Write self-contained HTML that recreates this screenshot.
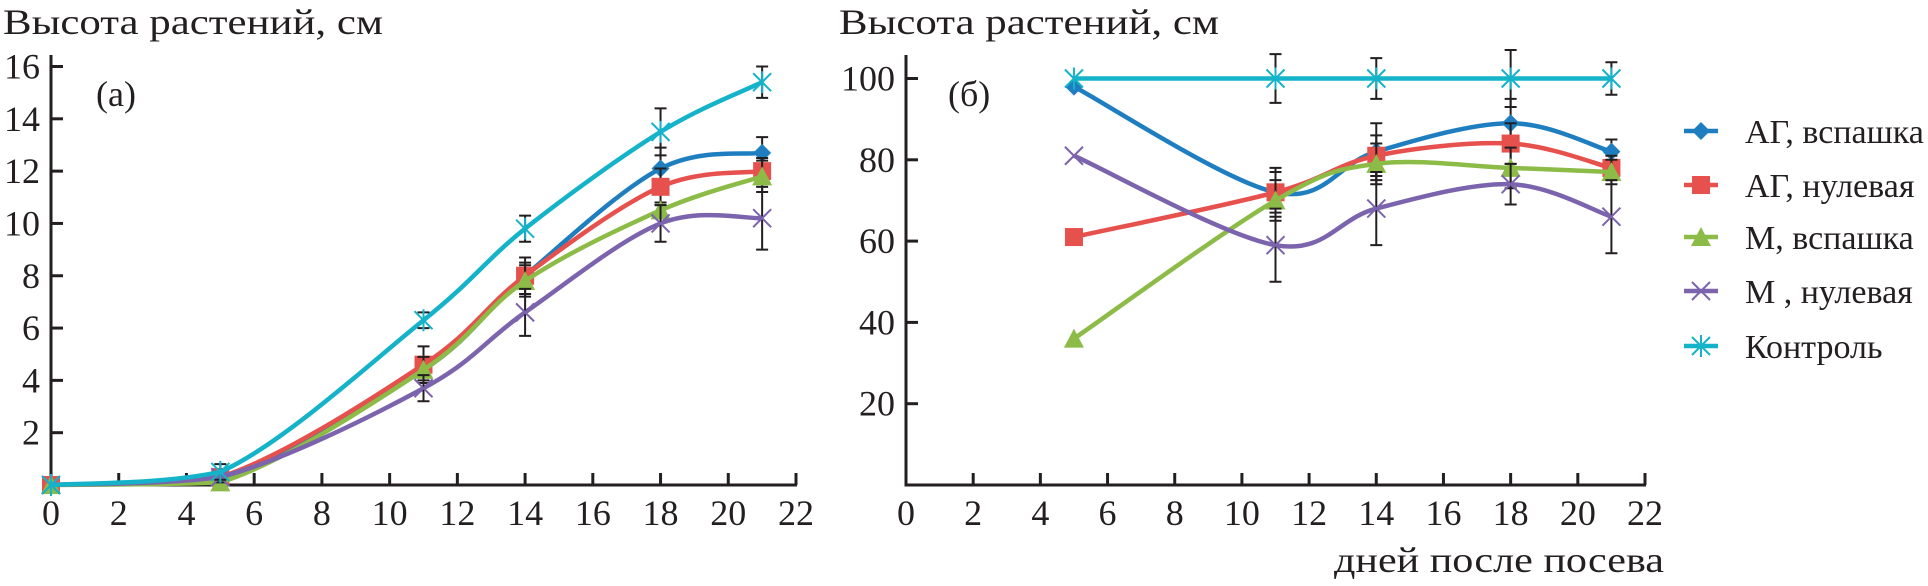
<!DOCTYPE html>
<html><head><meta charset="utf-8">
<style>
html,body{margin:0;padding:0;background:#fff;}
svg{display:block;font-family:"Liberation Serif",serif;}
</style></head>
<body>
<svg id="chart" width="1928" height="586" viewBox="0 0 1928 586"></svg>
<script>
const seriesNames = ["АГ, вспашка","АГ, нулевая","М, вспашка","М , нулевая","Контроль"];
const seriesColors = ["#1f7ec0","#e6504d","#8cbb48","#7b64ad","#14b3c9"];
const seriesMarkers = ["diamond","square","triangle","x","star"];
const daysA = [0,5,11,14,18,21];
const agVspA = [0,0.3,4.4,8.0,12.1,12.7];
const agNulA = [0,0.3,4.6,8.0,11.4,12.0];
const mVspA = [0,0.1,4.4,7.8,10.5,11.8];
const mNulA = [0,0.3,3.7,6.6,10.0,10.2];
const ctrlA = [0,0.5,6.3,9.8,13.5,15.4];
const errA = [[0,0.3,0.4,0.5,0.8,0.6],[0,0.3,0.7,0.7,0.7,0.5],[0,0.2,0.5,0.6,0.3,0.6],[0,0.2,0.5,0.9,0.7,1.2],[0,0.3,0.3,0.5,0.9,0.6]];
const daysB = [5,11,14,18,21];
const agVspB = [98,72,82,89,82];
const agNulB = [61,72,81,84,78];
const mVspB = [36,70,79,78,77];
const mNulB = [81,59,68,74,66];
const ctrlB = [100,100,100,100,100];
const errB = [[0,6,7,6,3],[0,5,5,5,3],[0,5,5,5,3],[0,9,9,5,9],[0,6,5,7,4]];
const xTicks = [0,2,4,6,8,10,12,14,16,18,20,22];
const yTicksA = [2,4,6,8,10,12,14,16];
const yTicksB = [20,40,60,80,100];

const NS="http://www.w3.org/2000/svg";
const svg=document.getElementById('chart');
function mk(tag,attrs,parent){const e=document.createElementNS(NS,tag);for(const k in attrs)e.setAttribute(k,attrs[k]);(parent||svg).appendChild(e);return e;}
function txt(s,x,y,size,anchor,parent,len){const t=mk('text',{x:x,y:y,'font-size':size,'text-anchor':anchor||'start',fill:'#231f20'},parent);if(len){t.setAttribute('textLength',len);t.setAttribute('lengthAdjust','spacingAndGlyphs');}t.textContent=s;return t;}

function smooth(pts,ymax){
  let d="M"+pts[0][0]+","+pts[0][1];
  for(let i=0;i<pts.length-1;i++){
    const p0=pts[Math.max(0,i-1)],p1=pts[i],p2=pts[i+1],p3=pts[Math.min(pts.length-1,i+2)];
    const t=1/6;
    const c1=[p1[0]+(p2[0]-p0[0])*t,Math.min(ymax,p1[1]+(p2[1]-p0[1])*t)];
    const c2=[p2[0]-(p3[0]-p1[0])*t,Math.min(ymax,p2[1]-(p3[1]-p1[1])*t)];
    d+=" C"+c1[0]+","+c1[1]+" "+c2[0]+","+c2[1]+" "+p2[0]+","+p2[1];
  }
  return d;
}
function marker(type,x,y,color,parent){
  const s=9;let e;
  if(type==="diamond")e=mk('polygon',{points:`${x},${y-s} ${x+s},${y} ${x},${y+s} ${x-s},${y}`,fill:color},parent);
  else if(type==="square")e=mk('rect',{x:x-s,y:y-s,width:2*s,height:2*s,fill:color},parent);
  else if(type==="triangle")e=mk('polygon',{points:`${x},${y-s-1} ${x+s+1},${y+s} ${x-s-1},${y+s}`,fill:color},parent);
  else if(type==="x")e=mk('path',{d:`M${x-s},${y-s}L${x+s},${y+s}M${x-s},${y+s}L${x+s},${y-s}`,stroke:color,'stroke-width':2,fill:'none'},parent);
  else e=mk('path',{d:`M${x-s},${y-s}L${x+s},${y+s}M${x-s},${y+s}L${x+s},${y-s}M${x},${y-s-2}L${x},${y+s+2}`,stroke:color,'stroke-width':2,fill:'none'},parent);
  return e;
}

function drawPanel(o){
  const g=mk('g',{});
  
  
  const X=v=>o.x0+(v-0)*(o.x1-o.x0)/22;
  const Y=v=>o.y0-(v)*(o.y0-o.yTop)/o.ymaxTick;
  const ax=mk('path',{d:`M${o.x0},${o.axTop}L${o.x0},${o.y0}L${o.x1+1},${o.y0}`,stroke:'#231f20','stroke-width':3,fill:'none'},g);
  
  
  xTicks.forEach(t=>{
    if(t>0)mk('line',{x1:X(t),y1:o.y0,x2:X(t),y2:o.y0-12,stroke:'#231f20','stroke-width':3},g);
    const l=txt(String(t),X(t),525,36,'middle',g);
    
    
  });
  o.yTicks.forEach(t=>{
    mk('line',{x1:o.x0,y1:Y(t),x2:o.x0+12,y2:Y(t),stroke:'#231f20','stroke-width':3},g);
    const l=txt(String(t),o.x0-11,Y(t)+12,36,'end',g);
    
    
  });
  const tt=txt("Высота растений, см",o.titleX,34,36,'start',g,380);
  
  
  const pl=txt(o.label,o.labelX,106,36,'start',g);
  
  
  o.series.forEach((vals,si)=>{
    const pts=vals.map((v,i)=>[X(o.days[i]),Y(v)]);
    const sg=mk('g',{},g);
    
    
    const ln=mk('path',{d:smooth(pts,o.y0),stroke:seriesColors[si],'stroke-width':4.5,fill:'none','stroke-linejoin':'round'},sg);
    
    
    vals.forEach((v,i)=>{
      const e=o.errs[si][i];
      if(e>0){
        const x=X(o.days[i]);
        const eb=mk('path',{d:`M${x},${Y(v+e)}L${x},${Y(v-e)}M${x-6},${Y(v+e)}L${x+6},${Y(v+e)}M${x-6},${Y(v-e)}L${x+6},${Y(v-e)}`,stroke:'#231f20','stroke-width':2,fill:'none'},sg);
        
        
      }
      const m=marker(seriesMarkers[si],X(o.days[i]),Y(v),seriesColors[si],sg);
      
      
    });
  });
}
drawPanel({name:'panel-a',x0:51,x1:796,y0:485,yTop:66.5,ymaxTick:16,axTop:55,yTicks:yTicksA,days:daysA,
  series:[agVspA,agNulA,mVspA,mNulA,ctrlA],errs:errA,titleX:3,label:"(a)",labelX:96});
drawPanel({name:'panel-b',x0:906,x1:1645,y0:485,yTop:78.5,ymaxTick:100,axTop:55,yTicks:yTicksB,days:daysB,
  series:[agVspB,agNulB,mVspB,mNulB,ctrlB],errs:errB,titleX:839,label:"(б)",labelX:948});

const xl=txt("дней после посева",1664,572,36,'end',null,330);



const legYs=[131,185,237,291,346];
seriesNames.forEach((n,i)=>{
  const g=mk('g',{});
  
  
  mk('line',{x1:1684,y1:legYs[i],x2:1718,y2:legYs[i],stroke:seriesColors[i],'stroke-width':4.5},g);
  marker(seriesMarkers[i],1701,legYs[i],seriesColors[i],g);
  txt(n,1745,legYs[i]+12,34,'start',g);
});
</script>
</body></html>
